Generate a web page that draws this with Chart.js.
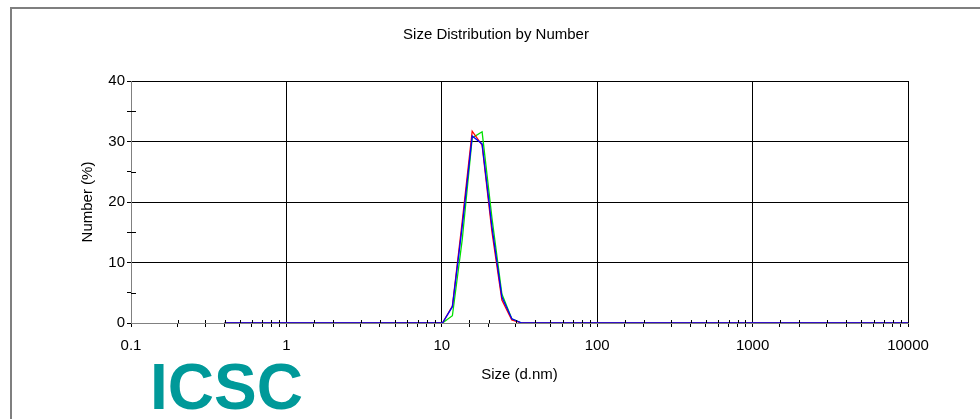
<!DOCTYPE html>
<html>
<head>
<meta charset="utf-8">
<script src="https://cdn.jsdelivr.net/npm/chart.js@4/dist/chart.umd.min.js"></script>
<style>
  html, body { margin: 0; padding: 0; background: #fff; }
  #wrap { width: 980px; height: 419px; position: relative; }
</style>
</head>
<body>
<div id="wrap"><canvas id="chart"></canvas></div>
<script>
// size bins (d.nm)
var sizes = [0.4, 0.4632, 0.5365, 0.6213, 0.7195, 0.8332, 0.9649, 1.117, 1.294, 1.499,
  1.736, 2.010, 2.328, 2.696, 3.122, 3.615, 4.187, 4.849, 5.615, 6.503,
  7.531, 8.721, 10.10, 11.70, 13.54, 15.69, 18.17, 21.04, 24.36, 28.21,
  32.67, 37.84, 43.82, 50.75, 58.77, 68.06, 78.82, 91.28, 105.7, 122.4,
  141.8, 164.2, 190.1, 220.2, 255.0, 295.3, 342.0, 396.1, 458.7, 531.2,
  615.1, 712.4, 825.0, 955.4, 1106, 1281, 1484, 1718, 1990, 2305,
  2669, 3091, 3580, 4145, 4801, 5560, 6439, 7456, 8635, 10000];

// number (%) for each run
var run1 = [0, 0, 0, 0, 0, 0, 0, 0, 0, 0,
  0, 0, 0, 0, 0, 0, 0, 0, 0, 0,
  0, 0, 0, 2.8, 16.8, 31.7, 29.4, 15.0, 3.8, 0.5,
  0, 0, 0, 0, 0, 0, 0, 0, 0, 0,
  0, 0, 0, 0, 0, 0, 0, 0, 0, 0,
  0, 0, 0, 0, 0, 0, 0, 0, 0, 0,
  0, 0, 0, 0, 0, 0, 0, 0, 0, 0];
var run2 = [0, 0, 0, 0, 0, 0, 0, 0, 0, 0,
  0, 0, 0, 0, 0, 0, 0, 0, 0, 0,
  0, 0, 0, 1.2, 13.8, 30.6, 31.6, 17.3, 4.8, 0.7,
  0, 0, 0, 0, 0, 0, 0, 0, 0, 0,
  0, 0, 0, 0, 0, 0, 0, 0, 0, 0,
  0, 0, 0, 0, 0, 0, 0, 0, 0, 0,
  0, 0, 0, 0, 0, 0, 0, 0, 0, 0];
var run3 = [0, 0, 0, 0, 0, 0, 0, 0, 0, 0,
  0, 0, 0, 0, 0, 0, 0, 0, 0, 0,
  0, 0, 0, 2.7, 16.0, 30.9, 29.6, 15.8, 4.3, 0.7,
  0, 0, 0, 0, 0, 0, 0, 0, 0, 0,
  0, 0, 0, 0, 0, 0, 0, 0, 0, 0,
  0, 0, 0, 0, 0, 0, 0, 0, 0, 0,
  0, 0, 0, 0, 0, 0, 0, 0, 0, 0];

var xMin = 0.1, xMax = 10000;
var yMin = 0, yMax = 40, yStep = 5;

var FONT = 'Liberation Sans, Arial, sans-serif';

function isDecade(v) {
  var l = Math.log10(v);
  return Math.abs(l - Math.round(l)) < 1e-6;
}

function toPoints(ys) {
  return sizes.map(function (s, i) { return { x: s, y: ys[i] }; });
}

// frame, chart title, logo
var decor = {
  id: 'decor',
  beforeDraw: function (chart) {
    var c = chart.ctx;
    c.save();
    c.fillStyle = '#fff';
    c.fillRect(0, 0, chart.width, chart.height);
    c.fillStyle = '#7f7f7f';
    c.fillRect(10, 7, chart.width - 10, 2);
    c.fillRect(10, 7, 2, chart.height - 7);
    c.restore();
  },
  afterDraw: function (chart) {
    var c = chart.ctx;
    c.save();
    c.fillStyle = '#000';
    c.font = '15px ' + FONT;
    c.textAlign = 'center';
    c.textBaseline = 'middle';
    c.fillText('Size Distribution by Number', 496, 35);
    c.fillStyle = '#009999';
    c.font = 'bold 64px ' + FONT;
    c.textAlign = 'left';
    c.textBaseline = 'alphabetic';
    c.fillText('ICSC', 150, 409);
    c.restore();
  }
};

// minor tick marks crossing into the plot
var minorTicks = {
  id: 'minorTicks',
  afterDatasetsDraw: function (chart) {
    var c = chart.ctx, xs = chart.scales.x, ys = chart.scales.y;
    c.save();
    c.strokeStyle = '#000';
    c.lineWidth = 1;
    c.beginPath();
    xs.ticks.forEach(function (t) {
      if (isDecade(t.value)) return;
      var px = Math.round(xs.getPixelForValue(t.value)) + 0.5;
      c.moveTo(px, ys.bottom - 3);
      c.lineTo(px, ys.bottom);
    });
    ys.ticks.forEach(function (t) {
      if (t.value % 10 === 0) return;
      var py = Math.round(ys.getPixelForValue(t.value)) + 0.5;
      c.moveTo(xs.left, py);
      c.lineTo(xs.left + 5, py);
    });
    c.stroke();
    c.restore();
  }
};

new Chart(document.getElementById('chart'), {
  type: 'line',
  data: {
    datasets: [
      { label: 'Run 3', data: toPoints(run3), borderColor: '#0000ff', borderWidth: 1.3 },
      { label: 'Run 1', data: toPoints(run1), borderColor: '#ff0000', borderWidth: 1.3 },
      { label: 'Run 2', data: toPoints(run2), borderColor: '#00e000', borderWidth: 1.3 }
    ]
  },
  options: {
    responsive: true,
    maintainAspectRatio: false,
    animation: false,
    events: [],
    layout: { padding: { left: 0, right: 72, top: 81, bottom: 0 } },
    elements: {
      point: { radius: 0 },
      line: { tension: 0, fill: false }
    },
    plugins: {
      legend: { display: false },
      title: { display: false },
      tooltip: { enabled: false }
    },
    scales: {
      x: {
        type: 'logarithmic',
        min: xMin,
        max: xMax,
        afterFit: function (s) { s.height = 96; },
        border: { color: '#808080', width: 1 },
        grid: {
          color: function (ctx) {
            if (!ctx.tick) return 'rgba(0,0,0,0)';
            var v = ctx.tick.value;
            return (isDecade(v) && v > xMin) ? '#000' : 'rgba(0,0,0,0)';
          },
          tickColor: '#000',
          tickLength: 4,
          lineWidth: 1
        },
        ticks: {
          autoSkip: false,
          maxRotation: 0,
          padding: 10,
          color: '#000',
          font: { family: FONT, size: 15 },
          callback: function (v) {
            if (!isDecade(v)) return '';
            return v >= 1 ? String(Math.round(v)) : v.toFixed(1);
          }
        },
        title: {
          display: true,
          text: 'Size (d.nm)',
          color: '#000',
          font: { family: FONT, size: 15 },
          padding: { top: 0, bottom: 35 }
        }
      },
      y: {
        min: yMin,
        max: yMax,
        afterFit: function (s) { s.width = 131; },
        border: { color: '#808080', width: 1 },
        grid: {
          color: function (ctx) {
            if (!ctx.tick) return 'rgba(0,0,0,0)';
            var v = ctx.tick.value;
            return (v % 10 === 0 && v !== 0) ? '#000' : 'rgba(0,0,0,0)';
          },
          tickColor: '#000',
          tickLength: 4,
          lineWidth: 1
        },
        ticks: {
          stepSize: yStep,
          padding: 2,
          color: '#000',
          font: { family: FONT, size: 15 },
          callback: function (v) { return v % 10 === 0 ? String(v) : ''; }
        },
        title: {
          display: true,
          text: 'Number (%)',
          color: '#000',
          font: { family: FONT, size: 15 },
          padding: { top: 79, bottom: 0 }
        }
      }
    }
  },
  plugins: [decor, minorTicks]
});
</script>
</body>
</html>
